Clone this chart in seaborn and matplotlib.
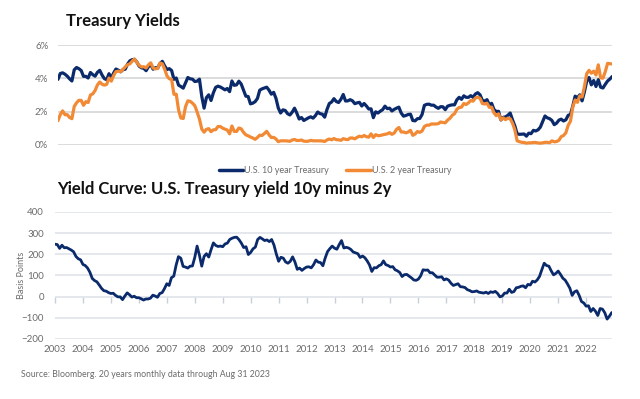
import numpy as np
import pandas as pd
import matplotlib
matplotlib.use("Agg")
import matplotlib.pyplot as plt
import seaborn as sns

# month-end yields (%), Sep 2003 .. Aug 2023
ust10y = [
    3.94, 4.29, 4.33, 4.25,
    4.13, 3.97, 3.84, 4.51, 4.65, 4.58, 4.47, 4.12, 4.12, 4.02, 4.35, 4.22,
    4.13, 4.36, 4.48, 4.20, 3.98, 3.92, 4.28, 4.02, 4.32, 4.56, 4.49, 4.39,
    4.52, 4.55, 4.85, 5.05, 5.12, 5.14, 4.98, 4.73, 4.63, 4.60, 4.46, 4.70,
    4.82, 4.55, 4.64, 4.62, 4.89, 5.02, 4.74, 4.53, 4.58, 4.47, 3.94, 4.02,
    3.59, 3.51, 3.41, 3.73, 4.05, 3.97, 3.95, 3.81, 3.83, 3.95, 2.92, 2.21,
    2.84, 3.01, 2.67, 3.13, 3.46, 3.53, 3.48, 3.40, 3.31, 3.39, 3.20, 3.84,
    3.58, 3.61, 3.83, 3.66, 3.29, 2.93, 2.91, 2.47, 2.51, 2.60, 2.79, 3.29,
    3.37, 3.42, 3.47, 3.29, 3.05, 3.16, 2.80, 2.22, 1.92, 2.11, 2.07, 1.88,
    1.80, 1.97, 2.21, 1.91, 1.56, 1.65, 1.47, 1.55, 1.63, 1.69, 1.61, 1.76,
    1.98, 1.88, 1.85, 1.67, 2.13, 2.49, 2.58, 2.78, 2.61, 2.55, 2.74, 3.03,
    2.64, 2.65, 2.72, 2.65, 2.48, 2.53, 2.56, 2.34, 2.49, 2.34, 2.16, 2.17,
    1.64, 1.99, 1.92, 2.03, 2.12, 2.33, 2.18, 2.21, 2.04, 2.14, 2.21, 2.27,
    1.92, 1.73, 1.77, 1.83, 1.85, 1.47, 1.45, 1.58, 1.59, 1.83, 2.38, 2.44,
    2.45, 2.39, 2.39, 2.28, 2.20, 2.30, 2.29, 2.12, 2.33, 2.38, 2.41, 2.41,
    2.71, 2.86, 2.74, 2.95, 2.86, 2.86, 2.96, 2.86, 3.06, 3.14, 3.01, 2.68,
    2.63, 2.72, 2.41, 2.50, 2.13, 2.01, 2.02, 1.50, 1.66, 1.69, 1.78, 1.92,
    1.51, 1.15, 0.67, 0.64, 0.65, 0.66, 0.53, 0.71, 0.68, 0.88, 0.84, 0.91,
    1.07, 1.41, 1.74, 1.63, 1.58, 1.47, 1.22, 1.31, 1.49, 1.55, 1.44, 1.51,
    1.78, 1.83, 2.34, 2.93, 2.84, 3.01, 2.65, 3.19, 3.83, 4.05, 3.61, 3.87,
    3.51, 3.92, 3.47, 3.42, 3.64, 3.84, 3.96, 4.11,
]
ust2y = [
    1.46, 1.83, 2.05, 1.82,
    1.82, 1.65, 1.58, 2.31, 2.53, 2.68, 2.68, 2.38, 2.60, 2.55, 3.00, 3.07,
    3.27, 3.60, 3.78, 3.65, 3.59, 3.64, 4.02, 3.83, 4.17, 4.40, 4.43, 4.40,
    4.53, 4.69, 4.82, 4.87, 5.03, 5.16, 4.96, 4.78, 4.68, 4.70, 4.62, 4.81,
    4.93, 4.62, 4.57, 4.59, 4.92, 4.87, 4.55, 4.15, 3.97, 3.94, 3.04, 3.05,
    2.10, 1.62, 1.59, 2.30, 2.65, 2.62, 2.51, 2.36, 1.98, 1.56, 0.96, 0.77,
    0.94, 0.98, 0.80, 0.91, 0.92, 1.11, 1.11, 1.01, 0.95, 0.90, 0.67, 1.14,
    0.82, 0.81, 1.02, 0.97, 0.76, 0.61, 0.55, 0.48, 0.42, 0.34, 0.45, 0.59,
    0.57, 0.69, 0.82, 0.61, 0.45, 0.46, 0.36, 0.20, 0.25, 0.25, 0.25, 0.24,
    0.22, 0.30, 0.33, 0.27, 0.27, 0.30, 0.23, 0.22, 0.23, 0.28, 0.25, 0.25,
    0.25, 0.25, 0.24, 0.21, 0.30, 0.36, 0.31, 0.39, 0.32, 0.31, 0.28, 0.38,
    0.34, 0.32, 0.42, 0.42, 0.37, 0.46, 0.53, 0.49, 0.57, 0.50, 0.47, 0.67,
    0.45, 0.62, 0.56, 0.57, 0.61, 0.64, 0.67, 0.74, 0.64, 0.72, 0.94, 1.05,
    0.78, 0.78, 0.73, 0.78, 0.88, 0.58, 0.66, 0.81, 0.76, 0.84, 1.11, 1.19,
    1.19, 1.26, 1.26, 1.26, 1.28, 1.38, 1.35, 1.33, 1.49, 1.60, 1.78, 1.88,
    2.14, 2.25, 2.27, 2.49, 2.43, 2.53, 2.67, 2.63, 2.82, 2.87, 2.80, 2.49,
    2.46, 2.51, 2.26, 2.27, 1.93, 1.76, 1.87, 1.51, 1.63, 1.52, 1.61, 1.57,
    1.31, 0.91, 0.25, 0.20, 0.16, 0.15, 0.11, 0.13, 0.13, 0.15, 0.15, 0.12,
    0.11, 0.13, 0.16, 0.16, 0.14, 0.25, 0.19, 0.21, 0.28, 0.50, 0.57, 0.73,
    1.18, 1.43, 2.28, 2.70, 2.56, 2.95, 2.88, 3.49, 4.28, 4.48, 4.31, 4.43,
    4.20, 4.81, 4.03, 4.01, 4.40, 4.90, 4.88, 4.86,
]
year_labels = [str(y) for y in range(2003, 2023)]

NAVY = "#0B2A6B"
ORANGE = "#F28A35"
GRID = "#D9D9D9"
TXT = "#6B6B6B"

df = pd.DataFrame({"month": np.arange(len(ust10y)), "10y": ust10y, "2y": ust2y})
df["spread"] = (df["10y"] - df["2y"]) * 100
long = df.melt(id_vars="month", value_vars=["10y", "2y"], var_name="tenor", value_name="yield")
long["tenor"] = long["tenor"].map({"10y": "U.S. 10 year Treasury", "2y": "U.S. 2 year Treasury"})

sns.set_theme(style="white")
plt.rcParams["font.family"] = ["Lato", "DejaVu Sans"]

fig = plt.figure(figsize=(6.4, 3.99), dpi=100)
ax1 = fig.add_axes([0.0906, 0.6366, 0.866, 0.2506])
ax2 = fig.add_axes([0.0859, 0.1504, 0.870, 0.3183])
xmax = len(ust10y) - 1

# top panel: yields
sns.lineplot(data=long, x="month", y="yield", hue="tenor", ax=ax1,
             palette=[NAVY, ORANGE], linewidth=2.3)
ax1.set_xlim(0, xmax)
ax1.set_ylim(0, 6)
ax1.set_yticks([0, 2, 4, 6])
ax1.set_yticklabels(["0%", "2%", "4%", "6%"])
ax1.set_xticks([])
ax1.set_xlabel("")
ax1.set_ylabel("")
ax1.grid(axis="y", color=GRID, linewidth=1.3)
ax1.set_axisbelow(True)
for s in ax1.spines.values():
    s.set_visible(False)
ax1.tick_params(axis="y", length=0, pad=7, labelsize=7, labelcolor=TXT)
leg = ax1.legend(loc="upper center", bbox_to_anchor=(0.5, -0.13), ncol=2,
                 frameon=False, fontsize=6.5, handlelength=2.7,
                 columnspacing=1.9, handletextpad=0.1)
for t in leg.get_texts():
    t.set_color(TXT)
for h in leg.get_lines():
    h.set_linewidth(2.5)

# bottom panel: spread
sns.lineplot(data=df, x="month", y="spread", ax=ax2, color=NAVY, linewidth=2.0)
ax2.set_xlim(0, xmax)
ax2.set_ylim(-200, 400)
ax2.set_yticks(range(-200, 401, 100))
ax2.grid(axis="y", color="#DDE1E8", linewidth=1.1)
ax2.set_axisbelow(True)
for s in ax2.spines.values():
    s.set_visible(False)
ax2.set_xticks(range(0, 240, 12))
ax2.set_xticklabels(year_labels)
ax2.tick_params(axis="x", length=0, pad=4, labelsize=7, labelcolor=TXT)
ax2.tick_params(axis="y", length=0, pad=8, labelsize=7, labelcolor=TXT)
ax2.set_xlabel("")
ax2.set_ylabel("Basis Points", fontsize=6.5, color=TXT)
ax2.yaxis.set_label_coords(-0.052, 0.5)

# small year ticks hanging off the zero line
zero_axis = ax2.secondary_xaxis(1 / 3)
zero_axis.set_xticks(range(0, 240, 12))
zero_axis.tick_params(axis="x", length=4, width=1, color="#C9CED8",
                      labelbottom=False, labeltop=False)
zero_axis.spines["bottom"].set_visible(False)
zero_axis.spines["top"].set_visible(False)

fig.text(0.103, 0.948, "Treasury Yields", fontsize=12, fontweight="bold",
         color="#111111", va="center")
fig.text(0.089, 0.527, "Yield Curve: U.S. Treasury yield 10y minus 2y",
         fontsize=12, fontweight="bold", color="#111111", va="center")
fig.text(0.033, 0.062, "Source: Bloomberg. 20 years monthly data through Aug 31 2023",
         fontsize=6.3, color=TXT, va="center")

fig.savefig("out.png", dpi=100)
